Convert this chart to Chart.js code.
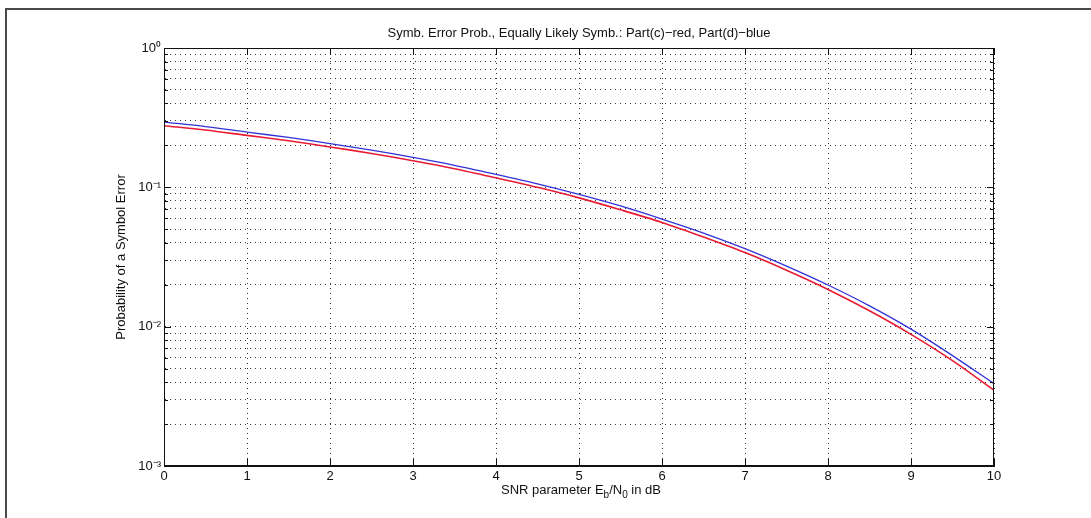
<!DOCTYPE html>
<html>
<head>
<meta charset="utf-8">
<script src="https://cdn.jsdelivr.net/npm/chart.js@4.4.1/dist/chart.umd.min.js"></script>
<style>
html, body { margin: 0; padding: 0; background: #fff; }
#wrap { width: 1091px; height: 518px; position: relative; }
</style>
</head>
<body>
<div id="wrap"><canvas id="myChart"></canvas></div>
<script>
// SNR in dB (x axis)
const snrDb = [0, 0.5, 1, 1.5, 2, 2.5, 3, 3.5, 4, 4.5, 5, 5.5, 6, 6.5, 7, 7.5, 8, 8.5, 9, 9.5, 10];
// Part(c) - red
const partC = [0.277, 0.258, 0.236, 0.216, 0.195, 0.175, 0.155, 0.136, 0.117, 0.100, 0.084, 0.069, 0.056, 0.044, 0.034, 0.0254, 0.0185, 0.0130, 0.0088, 0.0057, 0.0035];
// Part(d) - blue
const partD = [0.294, 0.273, 0.249, 0.228, 0.206, 0.185, 0.164, 0.144, 0.124, 0.106, 0.089, 0.0735, 0.0592, 0.047, 0.0363, 0.0272, 0.0199, 0.0141, 0.0096, 0.0062, 0.0039];

const xTicks = [0, 1, 2, 3, 4, 5, 6, 7, 8, 9, 10];
const yTicks = [0.001, 0.002, 0.003, 0.004, 0.005, 0.006, 0.007, 0.008, 0.009,
                0.01, 0.02, 0.03, 0.04, 0.05, 0.06, 0.07, 0.08, 0.09,
                0.1, 0.2, 0.3, 0.4, 0.5, 0.6, 0.7, 0.8, 0.9, 1];
const yDecades = [0.001, 0.01, 0.1, 1];
const yDecadeLabels = ['10\u207B\u00B3', '10\u207B\u00B2', '10\u207B\u00B9', '10\u2070'];

const chartTitle = 'Symb. Error Prob., Equally Likely Symb.: Part(c)\u2212red, Part(d)\u2212blue';
const yTitle = 'Probability of a Symbol Error';
// x label with subscripts: [text, isSubscript]
const xTitleParts = [['SNR parameter E', false], ['b', true], ['/N', false], ['0', true], [' in dB', false]];

const FONT = "'Liberation Sans', Arial, Helvetica, sans-serif";

function isDecade(v) {
    return yDecades.findIndex(d => Math.abs(v - d) / d < 1e-6);
}

const paperPlugin = {
    id: 'paper',
    beforeDraw(chart) {
        const c = chart.ctx;
        c.save();
        c.fillStyle = '#fff';
        c.fillRect(0, 0, chart.width, chart.height);
        // scanned page frame
        c.strokeStyle = '#4a4a4a';
        c.lineWidth = 2;
        c.beginPath();
        c.moveTo(chart.width, 9);
        c.lineTo(6, 9);
        c.lineTo(6, chart.height);
        c.stroke();
        c.restore();
    },
    afterDraw(chart) {
        const c = chart.ctx;
        const a = chart.chartArea;
        const xs = chart.scales.x;
        const ys = chart.scales.y;
        c.save();
        c.strokeStyle = '#111';
        c.lineWidth = 1;
        c.strokeRect(a.left + 0.5, a.top + 0.5, a.right - a.left - 1, a.bottom - a.top - 1);
        c.beginPath();
        xTicks.forEach(v => {
            const px = Math.round(xs.getPixelForValue(v)) + 0.5;
            c.moveTo(px, a.bottom); c.lineTo(px, a.bottom - 7);
            c.moveTo(px, a.top); c.lineTo(px, a.top + 7);
        });
        yTicks.forEach(v => {
            const py = Math.round(ys.getPixelForValue(v)) + 0.5;
            const len = isDecade(v) >= 0 ? 7 : 4;
            c.moveTo(a.left, py); c.lineTo(a.left + len, py);
            c.moveTo(a.right, py); c.lineTo(a.right - len, py);
        });
        c.stroke();

        // x axis title with subscripts
        const mainFont = '13px ' + FONT;
        const subFont = '10px ' + FONT;
        let total = 0;
        xTitleParts.forEach(p => {
            c.font = p[1] ? subFont : mainFont;
            total += c.measureText(p[0]).width;
        });
        let x = (a.left + a.right) / 2 - total / 2 + 2;
        const base = 494;
        c.fillStyle = '#111';
        c.textBaseline = 'alphabetic';
        c.textAlign = 'left';
        xTitleParts.forEach(p => {
            c.font = p[1] ? subFont : mainFont;
            c.fillText(p[0], x, p[1] ? base + 4 : base);
            x += c.measureText(p[0]).width;
        });
        c.restore();
    }
};

const ctx = document.getElementById('myChart').getContext('2d');
const myChart = new Chart(ctx, {
    type: 'line',
    data: {
        datasets: [
            {
                label: 'Part(c)',
                data: snrDb.map((x, i) => ({ x: x, y: partC[i] })),
                borderColor: 'rgb(232, 28, 52)',
                borderWidth: 1.6,
                pointRadius: 0,
                tension: 0.3,
                fill: false
            },
            {
                label: 'Part(d)',
                data: snrDb.map((x, i) => ({ x: x, y: partD[i] })),
                borderColor: 'rgb(50, 50, 215)',
                borderWidth: 1.3,
                pointRadius: 0,
                tension: 0.3,
                fill: false
            }
        ]
    },
    options: {
        responsive: true,
        maintainAspectRatio: false,
        animation: false,
        layout: {
            padding: { left: 0, right: 97, top: 0, bottom: 0 }
        },
        scales: {
            x: {
                type: 'linear',
                min: 0,
                max: 10,
                afterBuildTicks: s => { s.ticks = xTicks.map(v => ({ value: v })); },
                afterFit: s => { s.height = 52; },
                ticks: {
                    color: '#111',
                    padding: 3,
                    font: { family: FONT, size: 13 }
                },
                grid: {
                    color: '#333',
                    lineWidth: 1,
                    drawTicks: false
                },
                border: { display: true, color: '#111', dash: [1, 4] }
            },
            y: {
                type: 'logarithmic',
                min: 0.001,
                max: 1,
                afterBuildTicks: s => { s.ticks = yTicks.map(v => ({ value: v })); },
                afterFit: s => { s.width = 164; },
                ticks: {
                    autoSkip: false,
                    color: '#111',
                    padding: 3,
                    font: { family: FONT, size: 13 },
                    callback: v => {
                        const k = isDecade(v);
                        return k >= 0 ? yDecadeLabels[k] : '';
                    }
                },
                grid: {
                    color: '#333',
                    lineWidth: 1,
                    drawTicks: false
                },
                border: { display: true, color: '#111', dash: [1, 4] },
                title: {
                    display: true,
                    text: yTitle,
                    color: '#111',
                    font: { family: FONT, size: 13 },
                    padding: { top: 114, bottom: 0 }
                }
            }
        },
        plugins: {
            legend: { display: false },
            tooltip: { enabled: false },
            title: {
                display: true,
                text: chartTitle,
                fullSize: false,
                color: '#111',
                font: { family: FONT, size: 13, weight: 'normal' },
                padding: { top: 26, bottom: 6.4 }
            }
        }
    },
    plugins: [paperPlugin]
});
</script>
</body>
</html>
